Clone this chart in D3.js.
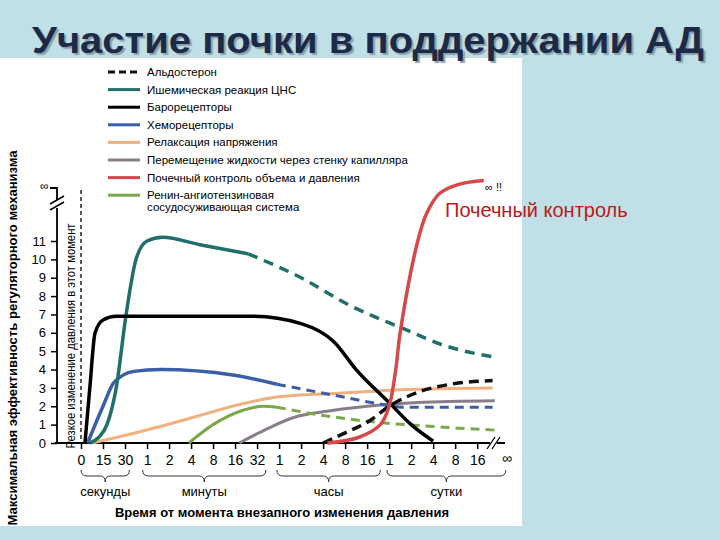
<!DOCTYPE html>
<html><head><meta charset="utf-8">
<script src="https://cdn.jsdelivr.net/npm/d3@7"></script>
<style>body{margin:0;background:#bfe0e6;}svg{display:block;font-family:"Liberation Sans",Arial,sans-serif;}</style>
</head><body>
<script>
// x positions are tick indices along the compressed time axis
var tickLabels = ["0","15","30","1","2","4","8","16","32","1","2","4","8","16","1","2","4","8","16"];
var groups = [["секунды",0,2.2],["минуты",2.8,8.4],["часы",8.9,13.6],["сутки",13.9,19.3]];

var baro = [[0.18,0],[0.4,3],[0.64,6],[1,6.7],[1.6,6.9],[4,6.9],[7.8,6.9],[10,6.5],[11.5,5.5],[12.5,4],[14,2.2],[15,1],[16,0.1]];
var cnsSolid = [[0.4,0],[0.8,0.3],[1.18,1],[1.6,3],[2.05,7],[2.5,10],[3,11],[3.7,11.2],[5.4,10.8],[7.6,10.3]];
var cnsDash = [[7.6,10.3],[10,9],[12.2,7.5],[14.5,6.3],[16.8,5.2],[18.7,4.7]];
var chemoSolid = [[0.3,0],[1,2],[1.5,3.3],[2.4,3.9],[3.6,4],[6.9,3.7],[8.9,3.2]];
var chemoDash = [[8.9,3.2],[11.5,2.6],[13.7,2.1],[14.6,1.95],[18.7,1.95]];
var relax = [[0.5,0],[1.6,0.3],[3.6,0.9],[5.4,1.5],[7.2,2.1],[8.9,2.5],[11.5,2.7],[13,2.8],[14.5,2.9],[18.7,3]];
var rasSolid = [[4.9,0],[6,1],[7.4,1.8],[8.3,2],[8.9,1.95]];
var rasDash = [[8.9,1.95],[11,1.5],[13.7,1.1],[16,0.9],[18.8,0.7]];
var fluid = [[7.2,0],[8.5,0.8],[9.7,1.4],[11,1.7],[13,2],[15.3,2.2],[18.8,2.3]];
var aldo = [[11,0],[11.9,0.5],[13.1,1.2],[14,2],[15.4,2.8],[16.8,3.2],[18.7,3.4]];
var kidney = [[11.2,0],[12.6,0.3],[13.6,1],[14,2],[14.3,4],[14.5,6],[15.3,11],[15.7,12.5],[16.3,13.6],[17.2,14.1],[18.3,14.3]];

var legend = [
  ["Альдостерон","#111",true],["Ишемическая реакция ЦНС","#1f6f6a",false],["Барорецепторы","#000",false],
  ["Хеморецепторы","#3a5fa8",false],["Релаксация напряжения","#f0b080",false],
  ["Перемещение жидкости через стенку капилляра","#8a7d8a",false],["Почечный контроль объема и давления","#d94848",false],
  ["Ренин-ангиотензиновая|сосудосуживающая система","#7aa84a",false]
];

var svg = d3.select("body").append("svg").attr("width",720).attr("height",540);
svg.append("rect").attr("x",0).attr("y",58).attr("width",522).attr("height",468).attr("fill","#fff");

// title
svg.append("text").attr("x",32).attr("y",53).attr("fill","#1c2a48")
  .attr("font-size",36).attr("font-weight","bold").attr("textLength",672).attr("lengthAdjust","spacingAndGlyphs")
  .style("text-shadow","2px 2px 1px #8aa0a8").text("Участие почки в поддержании АД");

var x = d3.scaleLinear().domain([0,19.4]).range([81,508]);
var y = d3.scaleLinear().domain([0,11]).range([443,241]);

// y axis
var yAxis = d3.axisLeft(y).ticks(12).tickSize(6).tickSizeOuter(0);
var gy = svg.append("g").attr("transform","translate(57,0)").call(yAxis);
gy.select(".domain").remove();
gy.selectAll("text").attr("font-size",13).attr("dx",-2);
gy.selectAll("line").attr("stroke-width",1.5);
svg.append("path").attr("d","M57,443V208M57,200V188H50").attr("stroke","#000").attr("stroke-width",1.8).attr("fill","none");
svg.append("path").attr("d","M50,210L64,202M50,204L64,196").attr("stroke","#000").attr("stroke-width",1.5);
svg.append("text").attr("x",40).attr("y",190).attr("font-size",12).text("∞");

// x axis
var gx = svg.append("g").attr("transform","translate(0,443)")
  .call(d3.axisBottom(x).tickValues(d3.range(19)).tickFormat(function(d){return tickLabels[d];}).tickSize(6).tickSizeOuter(0));
gx.select(".domain").remove();
gx.selectAll("text").attr("font-size",14).attr("dy","0.9em");
gx.selectAll("line").attr("stroke-width",1.5);
svg.append("path").attr("d","M55,443H490M497,443H505").attr("stroke","#000").attr("stroke-width",1.8);
svg.append("path").attr("d","M487,449L495,437M492,449L500,437").attr("stroke","#000").attr("stroke-width",1.3);
svg.append("text").attr("x",x(19.35)).attr("y",463).attr("text-anchor","middle").attr("font-size",14).text("∞");

// braces and group labels
groups.forEach(function(g){
  var a = x(g[1]), b = x(g[2]), m = (a+b)/2;
  svg.append("path").attr("d","M"+a+",470q0,6 6,6H"+(m-5)+"q5,0 5,6q0,-6 5,-6H"+(b-6)+"q6,0 6,-6")
    .attr("fill","none").attr("stroke","#333").attr("stroke-width",1);
  svg.append("text").attr("x",m).attr("y",496).attr("text-anchor","middle").attr("font-size",13).text(g[0]);
});
svg.append("text").attr("x",282).attr("y",517).attr("text-anchor","middle").attr("font-size",13)
  .attr("font-weight","bold").text("Время от момента внезапного изменения давления");

// y labels
svg.append("text").attr("transform","translate(17,338) rotate(-90)").attr("text-anchor","middle")
  .attr("font-size",13).attr("font-weight","bold").attr("textLength",375).attr("lengthAdjust","spacingAndGlyphs")
  .text("Максимальная эффективность регуляторного механизма");
svg.append("text").attr("transform","translate(75,336) rotate(-90)").attr("text-anchor","middle")
  .attr("font-size",12).attr("textLength",225).attr("lengthAdjust","spacingAndGlyphs")
  .text("Резкое изменение давления в этот момент");
svg.append("line").attr("x1",81).attr("x2",81).attr("y1",190).attr("y2",443)
  .attr("stroke","#000").attr("stroke-width",1.3).attr("stroke-dasharray","4,3");

var line = d3.line().x(function(d){return x(d[0]);}).y(function(d){return y(d[1]);}).curve(d3.curveMonotoneX);
function draw(data,color,w,dash){
  svg.append("path").datum(data).attr("d",line).attr("fill","none").attr("stroke",color)
    .attr("stroke-width",w).attr("stroke-dasharray",dash||null).attr("stroke-linecap","butt");
}
var lineK = d3.line().x(function(d){return x(d[0]);}).y(function(d){return y(d[1]);}).curve(d3.curveCatmullRom);
draw(relax,"#f0b080",3);
draw(fluid,"#8a7d8a",3);
draw(rasSolid,"#7aa84a",3); draw(rasDash,"#7aa84a",3,"9,6");
draw(chemoSolid,"#3a5fa8",3.5); draw(chemoDash,"#3a5fa8",3,"9,6");
draw(cnsSolid,"#1f6f6a",3.5); draw(cnsDash,"#1f6f6a",3.5,"10,7");
draw(aldo,"#111",3.5,"10,6");
draw(baro,"#000",3.5);
svg.append("path").datum(kidney).attr("d",lineK).attr("fill","none").attr("stroke","#d94848").attr("stroke-width",3.5);
svg.append("text").attr("x",485).attr("y",191).attr("font-size",11).text("∞ !!");

// legend
legend.forEach(function(l,i){
  var yy = 76 + i*17.6;
  svg.append("line").attr("x1",108).attr("x2",140).attr("y1",yy-4).attr("y2",yy-4)
    .attr("stroke",l[1]).attr("stroke-width",3).attr("stroke-dasharray",l[2]?"7,4":null);
  var parts = l[0].split("|");
  parts.forEach(function(p,j){
    svg.append("text").attr("x",147).attr("y",yy+j*12).attr("font-size",11.5).text(p);
  });
});

svg.append("text").attr("x",445).attr("y",217).attr("font-size",20).attr("fill","#c01818").text("Почечный контроль");
</script>
</body></html>
